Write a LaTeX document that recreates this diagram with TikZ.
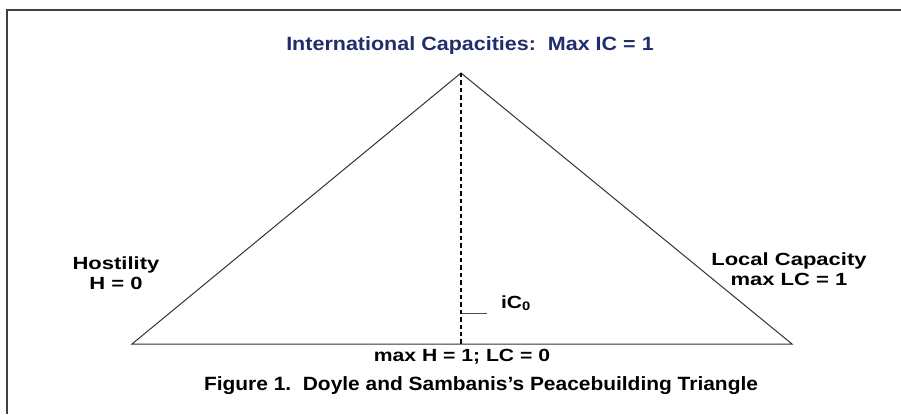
\documentclass[tikz,border=0pt]{standalone}
\usepackage{fontspec}
\setmainfont{Liberation Sans}
\usetikzlibrary{positioning}
\definecolor{titleblue}{RGB}{31,45,110}
\tikzstyle{every node}=[inner sep=0pt, outer sep=0pt]
\tikzstyle{lbl}=[font=\bfseries\fontsize{8.8pt}{10pt}\selectfont, align=center, xscale=1.25]
\tikzstyle{side}=[draw=black!80, line width=0.5pt]

\begin{document}
\begin{tikzpicture}[x=0.5pt, y=-0.5pt]
	\useasboundingbox (0,0) rectangle (901,414);

	% frame (top and left only)
	\coordinate (F0) at (7,414);
	\coordinate (F1) at (7,10);
	\coordinate (F2) at (901,10);
	\draw[black!75, line width=0.8pt] (F0) -- (F1) -- (F2);

	% corners of the triangle
	\coordinate (top) at (461,73);
	\coordinate (L) at (132,344);
	\coordinate (R) at (792,344);
	\coordinate (foot) at (461,344);

	\draw[side] (L) -- (top) -- (R) -- cycle;
	\draw[draw=black, line width=0.6pt, dash pattern=on 2.2pt off 1.5pt] (top) -- (foot);

	% small marker for iC0
	\coordinate (t0) at (462,313);
	\coordinate (t1) at (487,313);
	\draw[black!70, line width=0.4pt] (t0) -- (t1);
	\node[lbl, anchor=west, xscale=0.96] (ic) at (501,303) {iC\textsubscript{0}};

	% labels
	\node[font=\bfseries\fontsize{9.6pt}{11pt}\selectfont, text=titleblue, xscale=1.12] (IC) at (470,46) {International Capacities:\ \ Max IC = 1};
	\node[lbl] (H) at (116,273) {Hostility\\H = 0};
	\node[lbl] (LC) at (789,269) {Local Capacity\\max LC = 1};
	\node[lbl, xscale=0.96] (base) at (462,357) {max H = 1; LC = 0};

	% caption
	\node[font=\bfseries\fontsize{9.6pt}{11pt}\selectfont, xscale=1.09] (cap) at (481,386) {Figure 1.\ \ Doyle and Sambanis’s Peacebuilding Triangle};

\end{tikzpicture}
\end{document}
